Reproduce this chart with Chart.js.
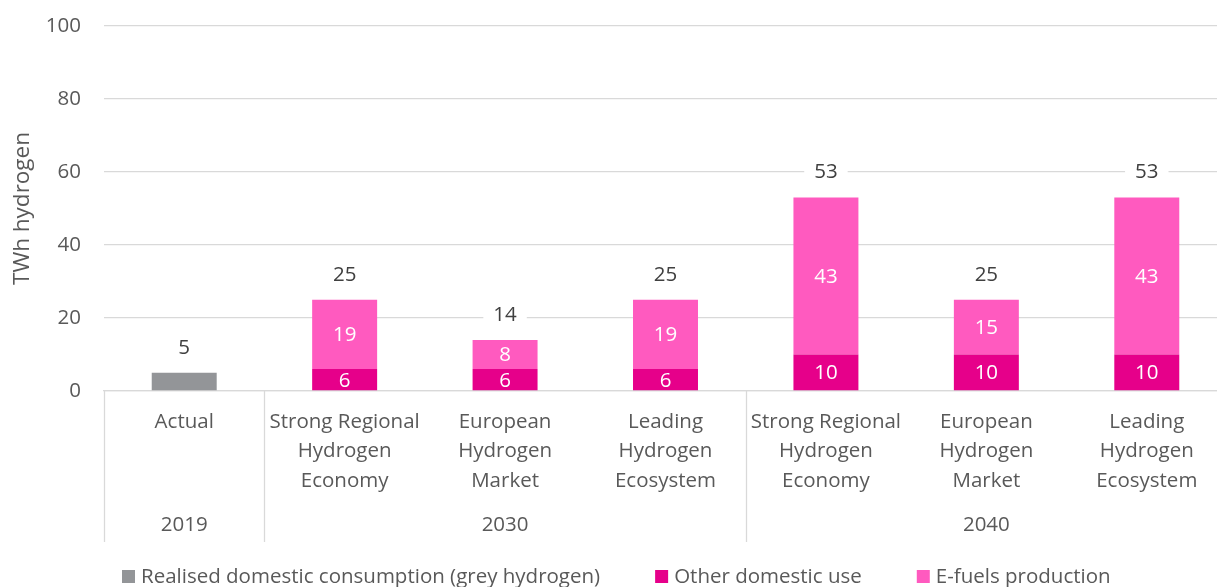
<!DOCTYPE html>
<html>
<head>
<meta charset="utf-8">
<script src="https://cdn.jsdelivr.net/npm/chart.js@4/dist/chart.umd.min.js"></script>
<style>
html,body{margin:0;padding:0;background:#fff;overflow:hidden;}
#wrap{width:1217px;height:587px;position:relative;overflow:hidden;}
canvas{display:block;}
</style>
</head>
<body>
<div id="wrap"><canvas id="c" width="1227" height="587"></canvas></div>
<script>
// ---- data ----
const categories = [
  ['Actual'],
  ['Strong Regional', 'Hydrogen', 'Economy'],
  ['European', 'Hydrogen', 'Market'],
  ['Leading', 'Hydrogen', 'Ecosystem'],
  ['Strong Regional', 'Hydrogen', 'Economy'],
  ['European', 'Hydrogen', 'Market'],
  ['Leading', 'Hydrogen', 'Ecosystem']
];
const years = ['2019', '2030', '2040'];
const yearGroups = [[0, 0], [1, 3], [4, 6]];
const greyConsumption = [5, null, null, null, null, null, null];
const otherDomesticUse = [null, 6, 6, 6, 10, 10, 10];
const eFuelsProduction = [null, 19, 8, 19, 43, 15, 43];
const seriesNames = ['Realised domestic consumption (grey hydrogen)', 'Other domestic use', 'E-fuels production'];
const seriesColors = ['#939598', '#E6008A', '#FF5ABF'];
const yTicks = [0, 20, 40, 60, 80, 100];
const yTitle = 'TWh hydrogen';

const FONT = "'Open Sans', 'Liberation Sans', sans-serif";
const FS = 20.5;
const TXT = '#595959';
const GRID = '#d9d9d9';

const labelsPlugin = {
  id: 'labelsPlugin',
  afterDatasetsDraw(chart) {
    const ctx = chart.ctx;
    const x = chart.scales.x, y = chart.scales.y;
    ctx.save();
    ctx.font = FS + "px " + FONT;
    ctx.textAlign = 'center';
    ctx.textBaseline = 'middle';
    chart.data.datasets.forEach((ds, di) => {
      if (di === 0) return;
      const meta = chart.getDatasetMeta(di);
      meta.data.forEach((bar, i) => {
        const v = ds.data[i];
        if (v == null) return;
        ctx.fillStyle = '#ffffff';
        ctx.fillText(String(v), bar.x, (bar.y + bar.base) / 2 + 1);
      });
    });
    categories.forEach((c, i) => {
      const total = (greyConsumption[i] || 0) + (otherDomesticUse[i] || 0) + (eFuelsProduction[i] || 0);
      const px = x.getPixelForValue(i);
      const py = y.getPixelForValue(total) - 26;
      const txt = String(Math.round(total));
      const w = ctx.measureText(txt).width + 20;
      ctx.fillStyle = '#ffffff';
      ctx.fillRect(px - w / 2, py - 12, w, 24);
      ctx.fillStyle = '#404040';
      ctx.fillText(txt, px, py + 1);
    });
    ctx.restore();
  },
  afterDraw(chart) {
    const ctx = chart.ctx;
    const x = chart.scales.x;
    const top = chart.chartArea.bottom;
    const bottom = top + 151;
    ctx.save();
    ctx.strokeStyle = GRID;
    ctx.lineWidth = 1.3;
    const step = x.getPixelForValue(1) - x.getPixelForValue(0);
    const bounds = [x.getPixelForValue(0) - step / 2, x.getPixelForValue(1) - step / 2, x.getPixelForValue(4) - step / 2];
    bounds.forEach(bx => {
      ctx.beginPath();
      ctx.moveTo(Math.round(bx) + 0.5, top);
      ctx.lineTo(Math.round(bx) + 0.5, bottom);
      ctx.stroke();
    });
    ctx.font = FS + "px " + FONT;
    ctx.fillStyle = TXT;
    ctx.textAlign = 'center';
    ctx.textBaseline = 'middle';
    yearGroups.forEach((g, k) => {
      const cx = (x.getPixelForValue(g[0]) + x.getPixelForValue(g[1])) / 2;
      ctx.fillText(years[k], cx, top + 134);
    });
    // legend
    ctx.textAlign = 'left';
    let lx = 122;
    const ly = 577;
    chart.data.datasets.forEach((ds) => {
      ctx.fillStyle = ds.backgroundColor;
      ctx.fillRect(lx, ly - 7, 13, 13);
      ctx.fillStyle = TXT;
      ctx.fillText(ds.label, lx + 19, ly);
      lx += 19 + ctx.measureText(ds.label).width + 55;
    });
    ctx.restore();
  }
};

new Chart(document.getElementById('c'), {
  type: 'bar',
  data: {
    labels: categories,
    datasets: [
      { label: seriesNames[0], data: greyConsumption, backgroundColor: seriesColors[0] },
      { label: seriesNames[1], data: otherDomesticUse, backgroundColor: seriesColors[1] },
      { label: seriesNames[2], data: eFuelsProduction, backgroundColor: seriesColors[2] }
    ]
  },
  options: {
    responsive: false,
    animation: false,
    devicePixelRatio: 1,
    layout: { padding: { top: 26, right: 0, left: 0, bottom: 45 } },
    datasets: { bar: { categoryPercentage: 1, barPercentage: 0.405, borderWidth: 0 } },
    plugins: {
      legend: { display: false },
      tooltip: { enabled: false }
    },
    scales: {
      x: {
        stacked: true,
        grid: { display: false, drawTicks: false },
        border: { display: true, color: GRID, width: 1.3 },
        ticks: {
          color: TXT, padding: 16, maxRotation: 0, autoSkip: false,
          font: { size: FS, family: FONT, lineHeight: 1.45 }
        },
        afterFit(s) { s.height = 151; s.paddingLeft = 0; s.paddingRight = 0; }
      },
      y: {
        stacked: true,
        min: 0, max: 100,
        afterBuildTicks(s) { s.ticks = yTicks.map(v => ({ value: v })); },
        grid: { color: GRID, lineWidth: 1.3, drawTicks: false },
        border: { display: false },
        ticks: { color: TXT, padding: 23, font: { size: FS, family: FONT } },
        title: { display: true, text: yTitle, color: TXT, font: { size: 22.5, family: FONT }, padding: { top: 9, bottom: 0 } },
        afterFit(s) { s.width = 104; s.paddingTop = 0; s.paddingBottom = 0; }
      }
    }
  },
  plugins: [labelsPlugin]
});
</script>
</body>
</html>
